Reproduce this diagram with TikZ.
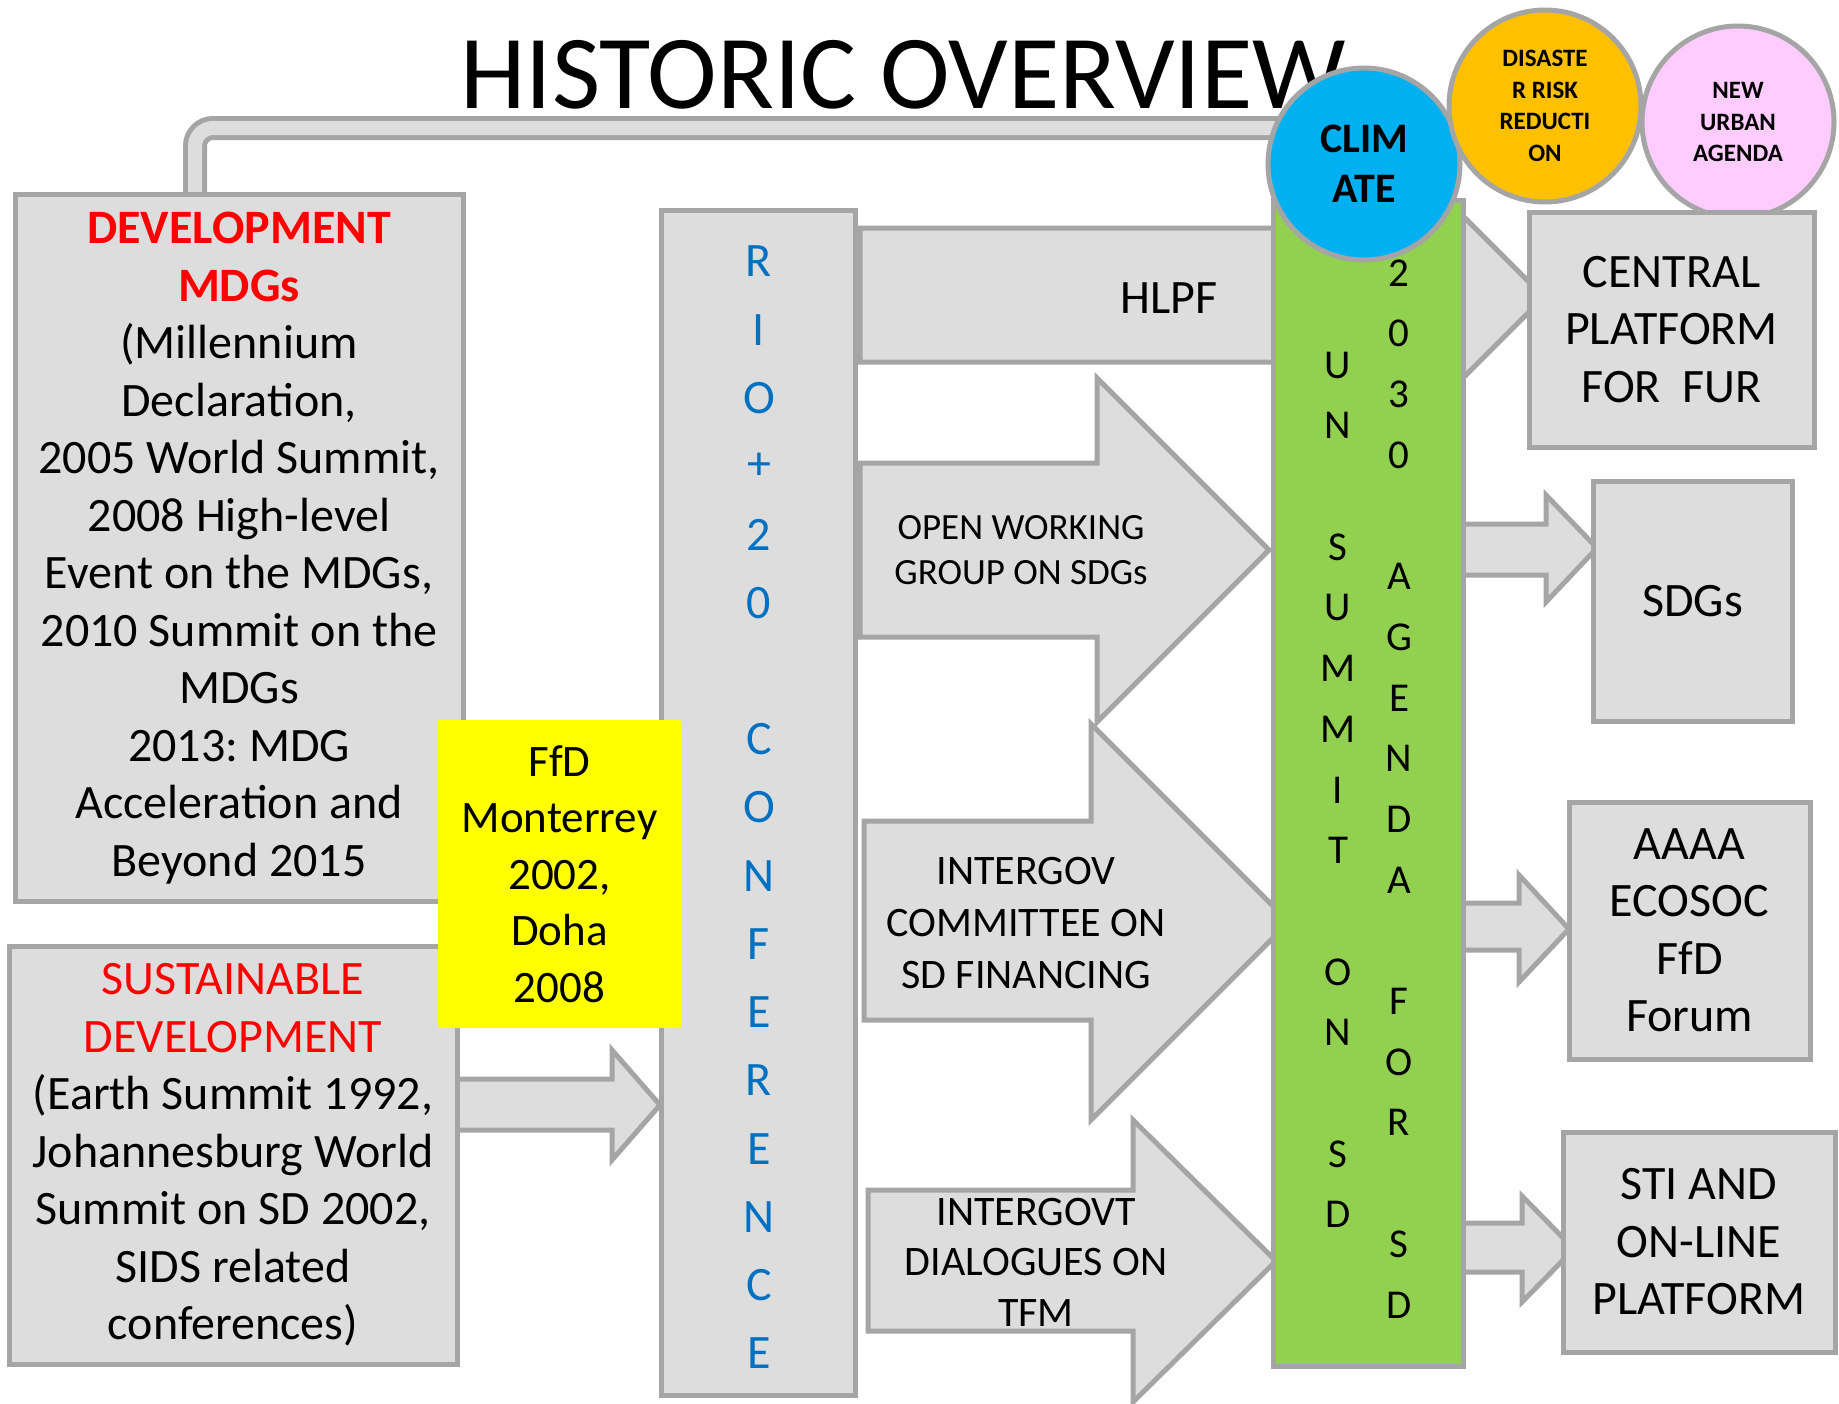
\documentclass[tikz,border=0pt]{standalone}
\usepackage{fontspec}
\setmainfont{Carlito}
\frenchspacing
\definecolor{boxfill}{HTML}{DDDDDD}
\definecolor{boxline}{HTML}{A5A5A5}
\definecolor{mdgred}{HTML}{FF0000}
\definecolor{rioblue}{HTML}{0070C0}
\definecolor{ungreen}{HTML}{92D050}
\definecolor{climcyan}{HTML}{00B0F0}
\definecolor{riskorange}{HTML}{FFC000}
\definecolor{urbanpink}{HTML}{FFCCFF}
\definecolor{ffdyellow}{HTML}{FFFF00}
\newcommand{\bodyfont}{\fontsize{48}{57.5}\selectfont}
\tikzset{
overview/.style={
    x=1pt,
    y=-1pt,
    line join=miter
},
box/.style={
    draw=boxline,
    fill=boxfill,
    line width=5pt,
    inner sep=0pt,
    align=center,
    font=\bodyfont
},
blockarrow/.style={
    draw=boxline,
    fill=boxfill,
    line width=5pt
},
arrowtext/.style={
    align=center,
    inner sep=0pt
},
rioletter/.style={
    text=rioblue,
    inner sep=0pt,
    font=\bodyfont
},
unletter/.style={
    inner sep=0pt,
    font=\fontsize{41}{48}\selectfont
},
bubble/.style={
    circle,
    draw=boxline,
    line width=5pt,
    minimum size=192pt,
    inner sep=0pt,
    align=center,
    font=\bfseries\fontsize{25}{31.7}\selectfont
},
pipe/.style={
    rounded corners=18pt
}}

\begin{document}
\begin{tikzpicture}[overview]
\useasboundingbox (0,0) rectangle (1839,1403);

\node[anchor=base, inner sep=0pt, font=\fontsize{105}{110}\selectfont] (title) at (903,108) {HISTORIC OVERVIEW};

% pipe from the MDG box over to the climate bubble
\coordinate (p0) at (195,230);
\coordinate (p1) at (1330,128);
\draw[pipe, boxline, line width=24pt] (p0) |- (p1);
\draw[pipe, boxfill, line width=14pt] (p0) |- (p1);

\node[box, minimum width=194pt, minimum height=1185pt] (rio) at (758,802.5) {};
\foreach \ch [count=\i from 0] in {R,I,O,+,2,0,{},C,O,N,F,E,R,E,N,C,E}
    \node[rioletter] (rio\i) at (759,{261.5+68.25*\i}) {\ch};

\draw[blockarrow] (860,228) -- (1450,228) -- (1450,203) -- (1544,297) -- (1450,391) -- (1450,362) -- (860,362) -- cycle;
\node[arrowtext, font=\bodyfont] (hlpf) at (1169,298) {HLPF};

\draw[blockarrow] (860,463) -- (1097,463) -- (1097,378) -- (1269,550) -- (1097,722) -- (1097,637) -- (860,637) -- cycle;
\node[arrowtext, font=\fontsize{37}{44.6}\selectfont] (owg) at (1021,550) {OPEN WORKING\\GROUP ON SDGs};

\draw[blockarrow] (864,821) -- (1091,821) -- (1091,724) -- (1289,922) -- (1091,1120) -- (1091,1020) -- (864,1020) -- cycle;
\node[arrowtext, font=\fontsize{42}{51.6}\selectfont] (icsdf) at (1026,923) {INTERGOV\\COMMITTEE ON\\SD FINANCING};

\draw[blockarrow] (868,1190) -- (1133,1190) -- (1133,1120) -- (1276,1261) -- (1133,1402) -- (1133,1331) -- (868,1331) -- cycle;
\node[arrowtext, font=\fontsize{42}{50.4}\selectfont] (tfm) at (1036,1262) {INTERGOVT\\DIALOGUES ON\\TFM};

\draw[blockarrow] (1440,524) -- (1546,524) -- (1546,495) -- (1597,548) -- (1546,602) -- (1546,575) -- (1440,575) -- cycle;
\draw[blockarrow] (1440,903) -- (1519,903) -- (1519,875) -- (1569,929) -- (1519,982) -- (1519,950) -- (1440,950) -- cycle;
\draw[blockarrow] (1440,1223) -- (1522,1223) -- (1522,1196) -- (1574,1249) -- (1522,1302) -- (1522,1272) -- (1440,1272) -- cycle;

\node[box, fill=ungreen, minimum width=190pt, minimum height=1166pt] (un) at (1368,783) {};
\foreach \ch [count=\i from 0] in {U,N,{},S,U,M,M,I,T,{},O,N,{},S,D}
    \node[unletter] (uns\i) at (1338,{365+60.7*\i}) {\ch};
\foreach \ch [count=\i from 0] in {2,0,3,0,{},A,G,E,N,D,A,{},F,O,R,{},S,D}
    \node[unletter] (una\i) at (1399,{273+60.7*\i}) {\ch};

\node[bubble, fill=climcyan, font=\bfseries\fontsize{42}{50}\selectfont] (clim) at (1364,164) {CLIM\\ATE};
\node[bubble, fill=riskorange] (drr) at (1545,106) {DISASTE\\R RISK\\REDUCTI\\ON};
\node[bubble, fill=urbanpink] (nua) at (1738,122) {NEW\\URBAN\\AGENDA};

\node[box, minimum width=285pt, minimum height=235pt] (cpf) at (1671.5,329.5) {CENTRAL\\PLATFORM\\FOR~~FUR};
\node[box, minimum width=199pt, minimum height=240pt] (sdgs) at (1692.5,601) {SDGs};
\node[box, minimum width=241pt, minimum height=257pt] (aaaa) at (1689.5,930.5) {AAAA\\ECOSOC\\FfD\\Forum};
\node[box, minimum width=272pt, minimum height=220pt] (sti) at (1699,1242) {STI AND\\ON-LINE\\PLATFORM};

\node[box, minimum width=448pt, minimum height=707pt] (mdg) at (239,548) {\textcolor{mdgred}{\textbf{DEVELOPMENT}}\\\textcolor{mdgred}{\textbf{MDGs}}\\(Millennium\\Declaration,\\2005 World Summit,\\2008 High-level\\Event on the MDGs,\\2010 Summit on the\\MDGs\\2013: MDG\\Acceleration and\\Beyond 2015};

\draw[blockarrow] (440,1079) -- (612,1079) -- (612,1050) -- (660,1105) -- (612,1160) -- (612,1130) -- (440,1130) -- cycle;
\node[box, minimum width=448pt, minimum height=418pt] (sd) at (233,1155) {\textcolor{mdgred}{SUSTAINABLE}\\\textcolor{mdgred}{DEVELOPMENT}\\(Earth Summit 1992,\\Johannesburg World\\Summit on SD 2002,\\SIDS related\\conferences)};

\node[fill=ffdyellow, rounded corners=2pt, minimum width=243pt, minimum height=308pt, inner sep=0pt, align=center, font=\fontsize{45}{56.5}\selectfont] (ffd) at (559.5,874) {FfD\\Monterrey\\2002,\\Doha\\2008};
\end{tikzpicture}
\end{document}
